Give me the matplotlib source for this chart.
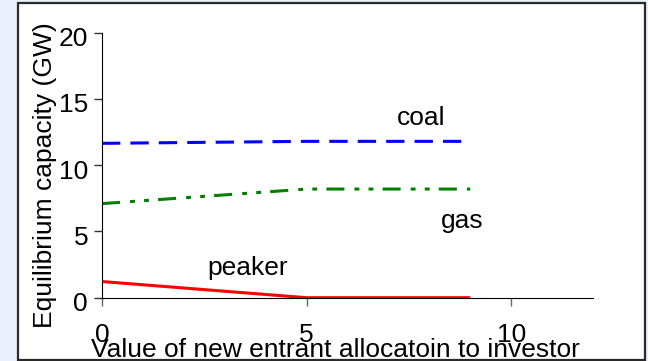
import matplotlib
matplotlib.use("Agg")
import matplotlib.pyplot as plt
from matplotlib.patches import Rectangle
from matplotlib.transforms import ScaledTranslation

plt.rcParams['font.family'] = ['Liberation Sans', 'DejaVu Sans']

# allocation values and equilibrium capacities (GW)
alloc = [0, 5, 9]
coal = [11.65, 11.8, 11.8]
gas = [7.1, 8.2, 8.2]
peaker = [1.22, 0, 0]

labels = ['coal', 'gas', 'peaker']
label_pos = [(7.8, 13.03), (8.8, 5.26), (3.55, 1.71)]

fs = 19

fig = plt.figure(figsize=(6.48, 3.61), dpi=100)
fig.patch.set_facecolor('#e9effb')

# white panel with dark frame
fig.patches.append(Rectangle((18/648, 1/361), 627/648, 357/361, transform=fig.transFigure,
                             facecolor='white', edgecolor='#2a2a2a', linewidth=1.6, zorder=-5))

ax = fig.add_axes([102/648, 1 - 297.7/361, 491/648, 265/361])
ax.set_facecolor('none')
ax.set_zorder(2)

ax.plot(alloc, coal, color='#0000ff', lw=2.2, dashes=(6, 3.3))
ax.plot(alloc, gas, color='#008000', lw=2.2, dashes=(5.9, 3.3, 1.6, 3, 1.6, 3))
ax.plot(alloc, peaker, color='#ff0000', lw=2.2, solid_capstyle='butt')

for t, (x, y) in zip(labels, label_pos):
    ax.text(x, y, t, fontsize=fs, ha='center', va='baseline')

ax.set_xlim(0, 12)
ax.set_ylim(0, 20)
ax.set_xticks([0, 5, 10])
ax.set_yticks([0, 5, 10, 15, 20])

for s in ['top', 'right']:
    ax.spines[s].set_visible(False)
ax.spines['left'].set_color('black')
ax.spines['bottom'].set_color('black')

ax.tick_params(axis='x', length=6, width=1, color='#666666', labelsize=fs, pad=12)
ax.tick_params(axis='y', length=6, width=1, color='#333333', labelsize=fs, pad=4)

off = ScaledTranslation(0, -4/100, fig.dpi_scale_trans)
for lab in ax.get_yticklabels():
    lab.set_transform(lab.get_transform() + off)

fig.text(45/648, 1 - 175/361, 'Equilibrium capacity (GW)', rotation=90,
         fontsize=fs, ha='center', va='center', zorder=3)
fig.text(335.5/648, 4/361, 'Value of new entrant allocatoin to investor',
         fontsize=fs, ha='center', va='baseline', zorder=3)

fig.savefig('out.png', dpi=100, facecolor=fig.get_facecolor())
